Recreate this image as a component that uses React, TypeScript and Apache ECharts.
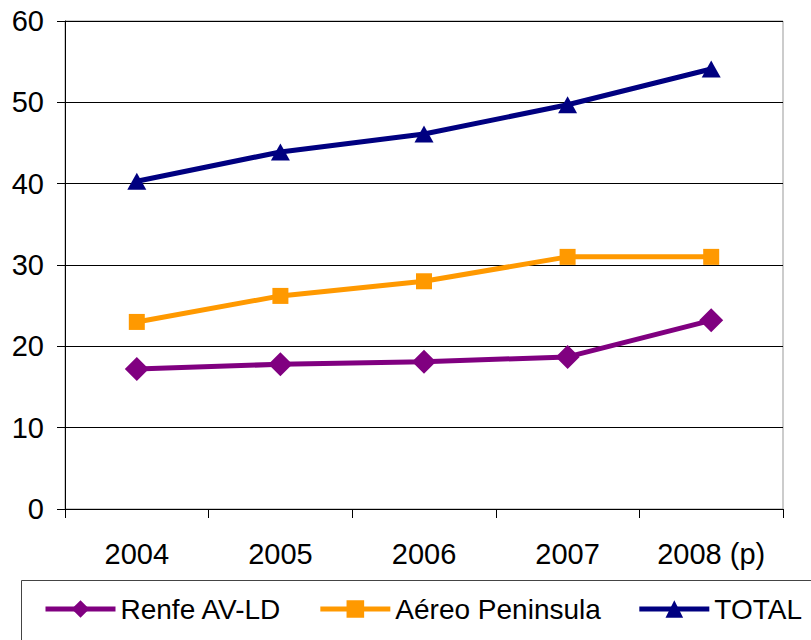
import React, { useEffect, useRef } from "react";
import * as echarts from "echarts";

const categories = ["2004", "2005", "2006", "2007", "2008 (p)"];
const renfe = [17.2, 17.8, 18.1, 18.7, 23.2];
const aereo = [23.0, 26.2, 28.0, 31.0, 31.0];
const total = [40.3, 43.9, 46.1, 49.7, 54.1];
const seriesNames = ["Renfe AV-LD", "Aéreo Peninsula", "TOTAL"];
const FONT = "'Liberation Sans', Arial, sans-serif";

export default function App() {
  const ref = useRef<HTMLDivElement>(null);
  useEffect(() => {
    if (!ref.current) return;
    const chart = echarts.init(ref.current, undefined, { renderer: "svg" });
    chart.setOption({
      animation: false,
      backgroundColor: "#ffffff",
      grid: {
        left: 65,
        right: 28,
        top: 21,
        bottom: 131,
        show: true,
        borderColor: "#999999",
        borderWidth: 1,
        backgroundColor: "transparent",
      },
      legend: {
        left: 38,
        top: 590,
        itemWidth: 70,
        itemHeight: 22,
        itemGap: 36,
        lineStyle: { width: 5 },
        textStyle: { fontFamily: FONT, fontSize: 28, color: "#000" },
        data: seriesNames,
      },
      graphic: [
        {
          type: "rect",
          shape: { x: 21.5, y: 580.5, width: 830, height: 100 },
          style: { fill: "none", stroke: "#444", lineWidth: 1 },
          silent: true,
        },
      ],
      xAxis: {
        type: "category",
        data: categories,
        boundaryGap: true,
        axisLine: { show: true, lineStyle: { color: "#000", width: 1 } },
        axisTick: { show: true, length: 9, interval: 0, lineStyle: { color: "#000" } },
        axisLabel: { fontFamily: FONT, fontSize: 29, color: "#000", margin: 30, interval: 0 },
        splitLine: { show: false },
      },
      yAxis: {
        type: "value",
        min: 0,
        max: 60,
        interval: 10,
        axisLine: { show: true, lineStyle: { color: "#000", width: 1 } },
        axisTick: { show: true, length: 8, lineStyle: { color: "#000" } },
        axisLabel: { fontFamily: FONT, fontSize: 29, color: "#000", margin: 21 },
        splitLine: { show: true, lineStyle: { color: "#000", width: 1 } },
      },
      series: [
        {
          name: seriesNames[0],
          type: "line",
          data: renfe,
          symbol: "diamond",
          symbolSize: 24,
          lineStyle: { color: "#800080", width: 5 },
          itemStyle: { color: "#800080" },
        },
        {
          name: seriesNames[1],
          type: "line",
          data: aereo,
          symbol: "rect",
          symbolSize: 16,
          lineStyle: { color: "#FF9900", width: 5 },
          itemStyle: { color: "#FF9900" },
        },
        {
          name: seriesNames[2],
          type: "line",
          data: total,
          symbol: "triangle",
          symbolSize: [19, 17],
          lineStyle: { color: "#000080", width: 5 },
          itemStyle: { color: "#000080" },
        },
      ],
    });
    return () => chart.dispose();
  }, []);
  return <div ref={ref} style={{ width: 811, height: 640, position: "absolute", left: 0, top: 0 }} />;
}
